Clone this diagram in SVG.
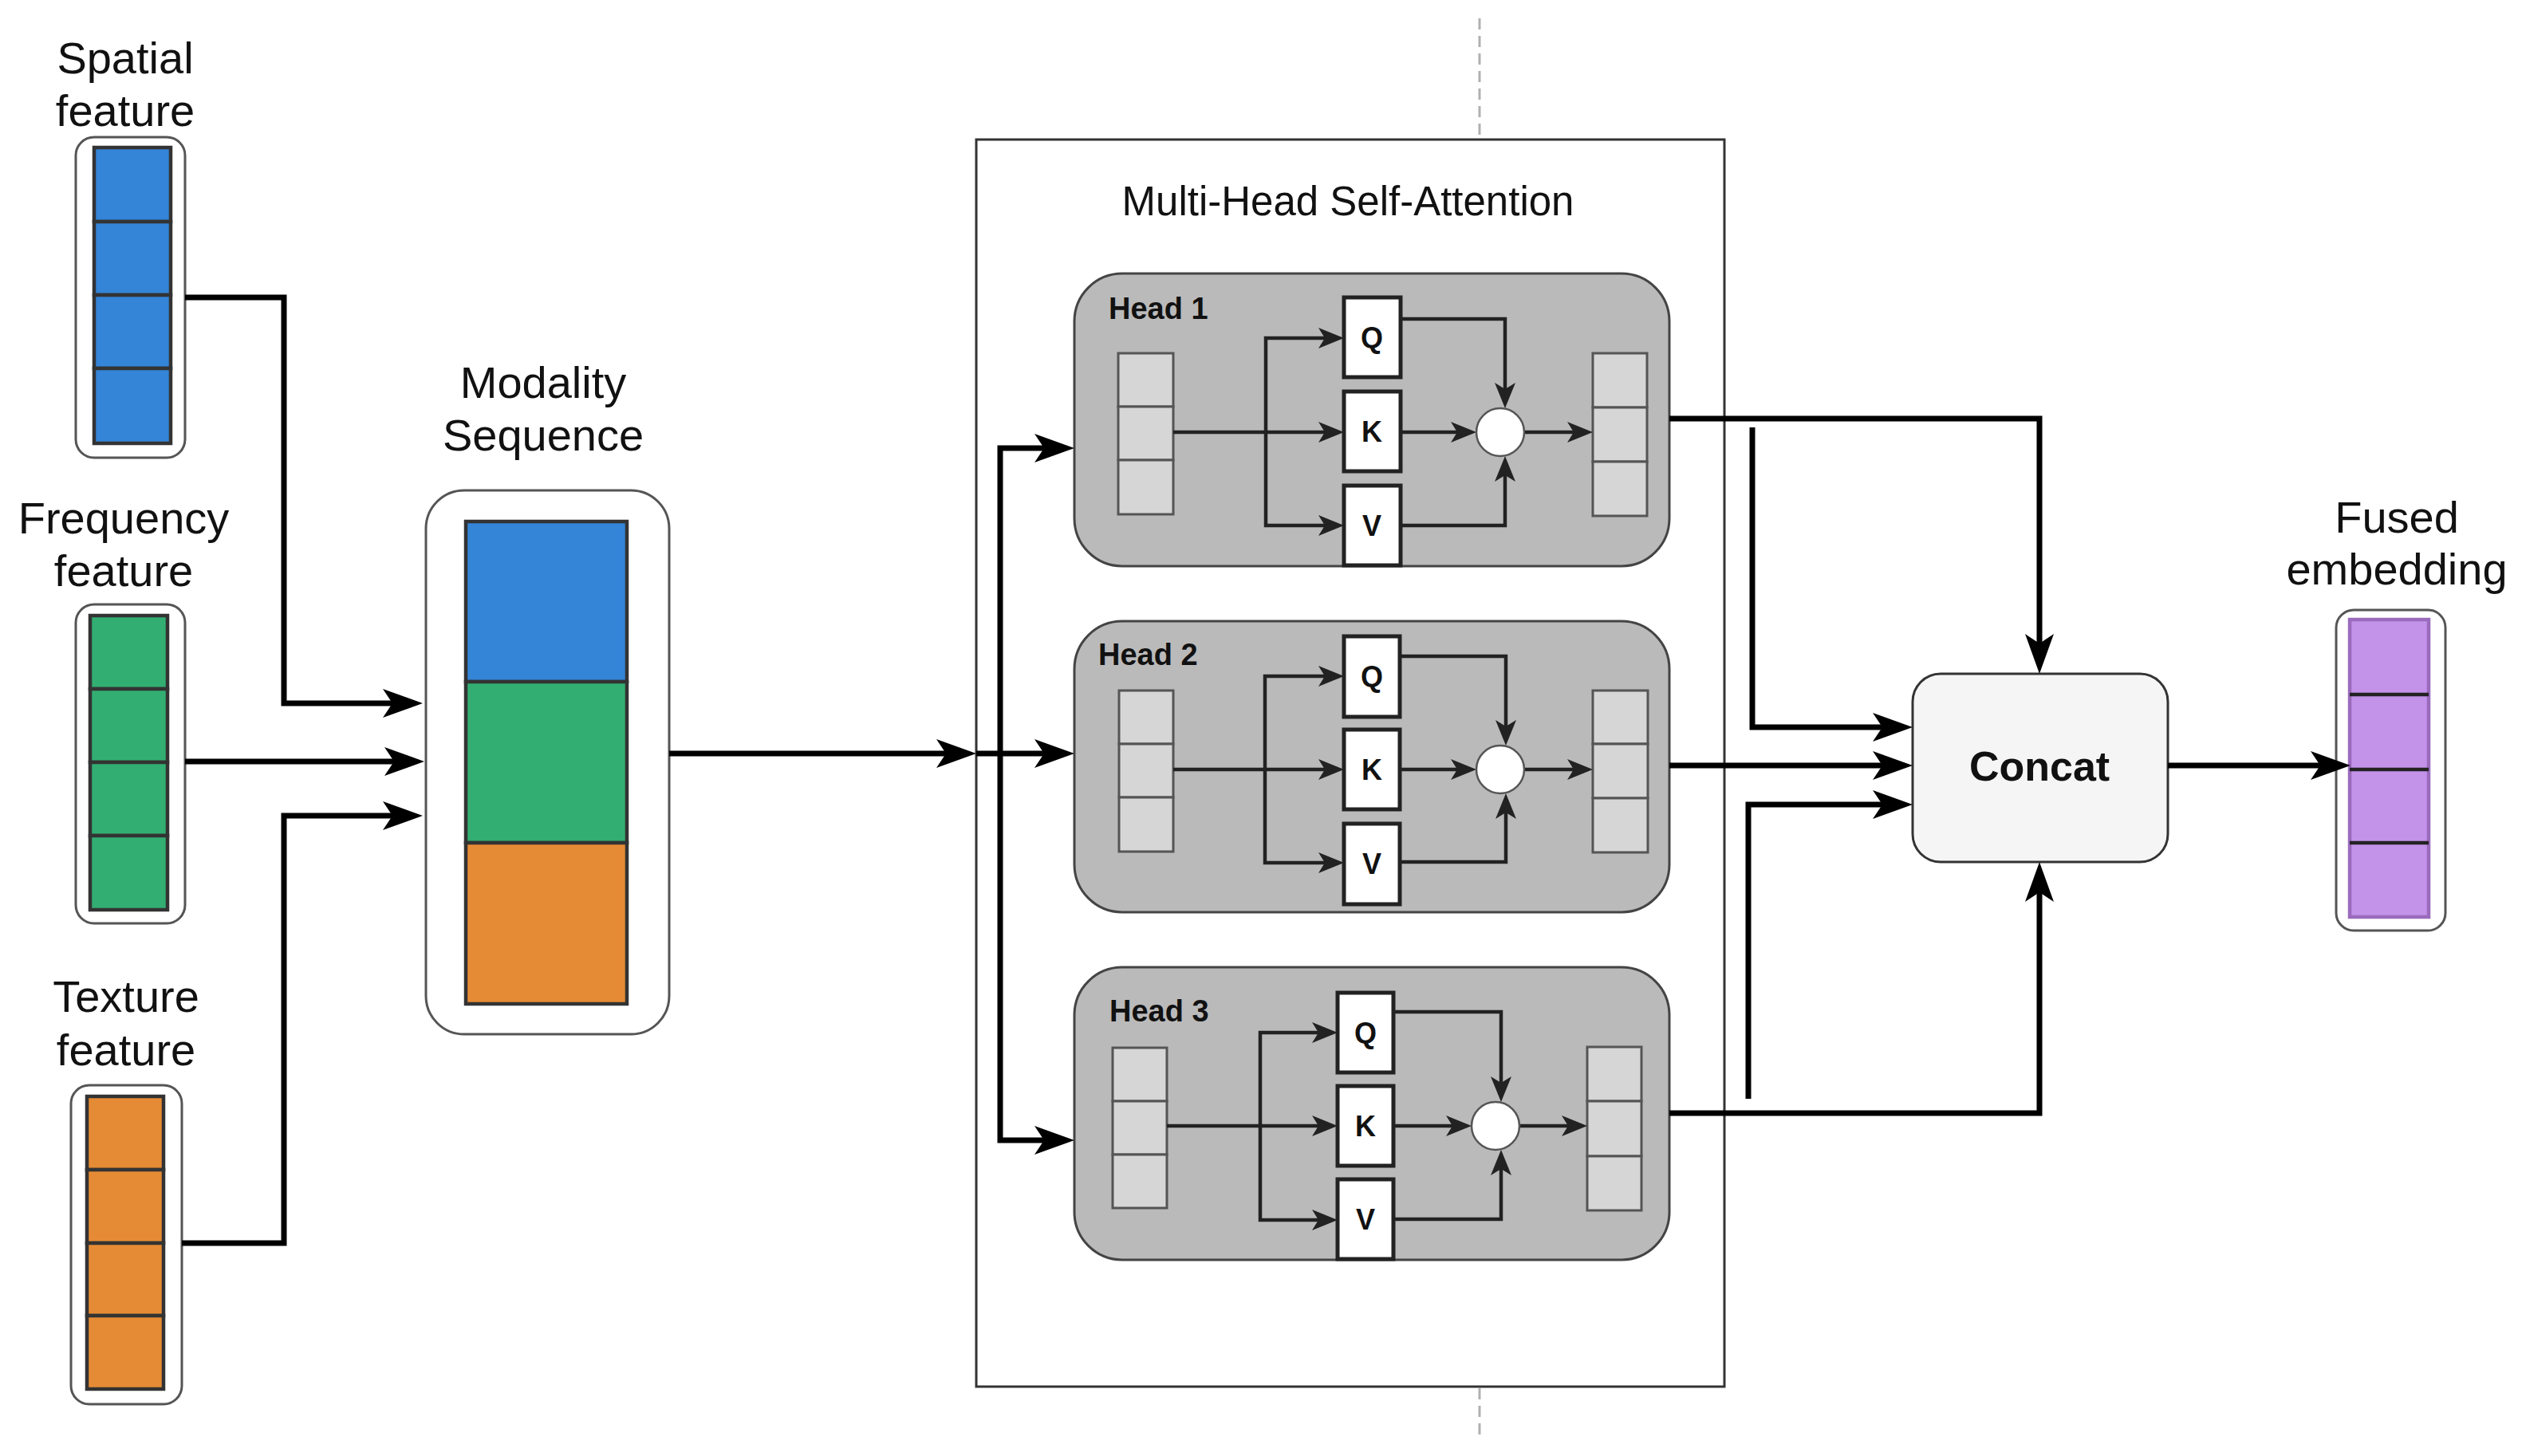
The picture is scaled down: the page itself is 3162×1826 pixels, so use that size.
<svg xmlns="http://www.w3.org/2000/svg" width="3162" height="1826" viewBox="0 0 3162 1826">
<defs>
<style>
.lbl{font-family:"Liberation Sans",Arial,sans-serif;font-size:56px;fill:#111;text-anchor:middle}
.title{font-family:"Liberation Sans",Arial,sans-serif;font-size:51px;fill:#111;text-anchor:middle}
.hl{font-family:"Liberation Sans",Arial,sans-serif;font-size:38px;font-weight:bold;fill:#111}
.qkv{font-family:"Liberation Sans",Arial,sans-serif;font-size:36px;font-weight:bold;fill:#111;text-anchor:middle}
.cc{font-family:"Liberation Sans",Arial,sans-serif;font-size:52px;font-weight:bold;fill:#111;text-anchor:middle}
.outer{fill:#fff;stroke:#555;stroke-width:3}
.cell{stroke:#333;stroke-width:4.5}
.blue{fill:#3484d7}.green{fill:#33ae72}.orange{fill:#e68b35}
.head{fill:#bababa;stroke:#444;stroke-width:3}
.st{fill:#d6d6d6;stroke:#555;stroke-width:3}
.box{fill:#fff;stroke:#222;stroke-width:5}
.circ{fill:#fff;stroke:#555;stroke-width:2.5}
.big{fill:none;stroke:#000;stroke-width:7;stroke-linejoin:miter;marker-end:url(#ab)}
.sm{fill:none;stroke:#222;stroke-width:4.5;marker-end:url(#as)}
.dash{stroke:#b0b0b0;stroke-width:3;stroke-dasharray:14 8}
</style>
<marker id="ab" viewBox="0 0 50 36" markerWidth="50" markerHeight="36" markerUnits="userSpaceOnUse" refX="30" refY="18" orient="auto">
<path d="M0,0 L50,18 L0,36 L12,18 Z" fill="#000"/>
</marker>
<marker id="as" viewBox="0 0 32 26" markerWidth="32" markerHeight="26" markerUnits="userSpaceOnUse" refX="20" refY="13" orient="auto">
<path d="M0,0 L32,13 L0,26 L8,13 Z" fill="#222"/>
</marker>
</defs>
<rect width="3162" height="1826" fill="#fff"/>

<line class="dash" x1="1855" y1="23" x2="1855" y2="175"/>
<line class="dash" x1="1855" y1="1741" x2="1855" y2="1800"/>

<g id="spatial">
<text class="lbl" x="157" y="92">Spatial</text>
<text class="lbl" x="157" y="158">feature</text>
<rect class="outer" x="95" y="172" width="137" height="402" rx="23"/>
<rect class="cell blue" x="118" y="185" width="96" height="93"/>
<rect class="cell blue" x="118" y="278" width="96" height="92"/>
<rect class="cell blue" x="118" y="370" width="96" height="92"/>
<rect class="cell blue" x="118" y="462" width="96" height="94"/>
</g>

<g id="frequency">
<text class="lbl" x="155" y="669">Frequency</text>
<text class="lbl" x="155" y="735">feature</text>
<rect class="outer" x="95" y="758" width="137" height="400" rx="23"/>
<rect class="cell green" x="113" y="772" width="97" height="92"/>
<rect class="cell green" x="113" y="864" width="97" height="92"/>
<rect class="cell green" x="113" y="956" width="97" height="92"/>
<rect class="cell green" x="113" y="1048" width="97" height="93"/>
</g>

<g id="texture">
<text class="lbl" x="158" y="1269">Texture</text>
<text class="lbl" x="158" y="1336">feature</text>
<rect class="outer" x="89" y="1361" width="139" height="400" rx="23"/>
<rect class="cell orange" x="109" y="1375" width="96" height="92"/>
<rect class="cell orange" x="109" y="1467" width="96" height="92"/>
<rect class="cell orange" x="109" y="1559" width="96" height="91"/>
<rect class="cell orange" x="109" y="1650" width="96" height="92"/>
</g>

<g id="modality">
<text class="lbl" x="681" y="499">Modality</text>
<text class="lbl" x="681" y="565">Sequence</text>
<rect class="outer" x="534" y="615" width="305" height="682" rx="48"/>
<rect class="cell blue" x="584" y="654" width="202" height="201"/>
<rect class="cell green" x="584" y="855" width="202" height="202"/>
<rect class="cell orange" x="584" y="1057" width="202" height="202"/>
</g>

<g id="mhsa">
<rect x="1224" y="175" width="938" height="1564" fill="none" stroke="#333" stroke-width="3"/>
<text class="title" x="1690" y="270">Multi-Head Self-Attention</text>
</g>

<g id="head1">
<rect class="head" x="1347" y="343" width="746" height="367" rx="60"/>
<text class="hl" x="1390" y="400">Head 1</text>
<rect class="st" x="1402" y="443" width="69" height="67"/>
<rect class="st" x="1402" y="510" width="69" height="67"/>
<rect class="st" x="1402" y="577" width="69" height="68"/>
<rect class="st" x="1997" y="443" width="68" height="68"/>
<rect class="st" x="1997" y="511" width="68" height="68"/>
<rect class="st" x="1997" y="579" width="68" height="68"/>
<path class="sm" d="M1471,542 H1673"/>
<path class="sm" d="M1587,542 V424 H1673"/>
<path class="sm" d="M1587,542 V659 H1673"/>
<path class="sm" d="M1756,542 H1839"/>
<path class="sm" d="M1756,400 H1887 V500"/>
<path class="sm" d="M1756,659 H1887 V584"/>
<path class="sm" d="M1911,542 H1985"/>
<rect class="box" x="1685" y="373" width="71" height="100"/>
<rect class="box" x="1685" y="491" width="71" height="100"/>
<rect class="box" x="1685" y="609" width="71" height="100"/>
<text class="qkv" x="1720" y="436">Q</text>
<text class="qkv" x="1720" y="554">K</text>
<text class="qkv" x="1720" y="672">V</text>
<circle class="circ" cx="1881" cy="542" r="30"/>
</g>

<g id="head2">
<rect class="head" x="1347" y="779" width="746" height="365" rx="60"/>
<text class="hl" x="1377" y="834">Head 2</text>
<rect class="st" x="1403" y="866" width="68" height="67"/>
<rect class="st" x="1403" y="933" width="68" height="67"/>
<rect class="st" x="1403" y="1000" width="68" height="68"/>
<rect class="st" x="1997" y="866" width="69" height="67"/>
<rect class="st" x="1997" y="933" width="69" height="68"/>
<rect class="st" x="1997" y="1001" width="69" height="68"/>
<path class="sm" d="M1471,965 H1673"/>
<path class="sm" d="M1586,965 V848 H1673"/>
<path class="sm" d="M1586,965 V1082 H1673"/>
<path class="sm" d="M1755,965 H1839"/>
<path class="sm" d="M1755,823 H1888 V923"/>
<path class="sm" d="M1755,1081 H1888 V1007"/>
<path class="sm" d="M1911,965 H1985"/>
<rect class="box" x="1685" y="798" width="70" height="101"/>
<rect class="box" x="1685" y="915" width="70" height="100"/>
<rect class="box" x="1685" y="1033" width="70" height="101"/>
<text class="qkv" x="1720" y="861">Q</text>
<text class="qkv" x="1720" y="978">K</text>
<text class="qkv" x="1720" y="1096">V</text>
<circle class="circ" cx="1881" cy="965" r="30"/>
</g>

<g id="head3">
<rect class="head" x="1347" y="1213" width="746" height="367" rx="60"/>
<text class="hl" x="1391" y="1281">Head 3</text>
<rect class="st" x="1395" y="1314" width="68" height="67"/>
<rect class="st" x="1395" y="1381" width="68" height="67"/>
<rect class="st" x="1395" y="1448" width="68" height="67"/>
<rect class="st" x="1990" y="1313" width="68" height="68"/>
<rect class="st" x="1990" y="1381" width="68" height="69"/>
<rect class="st" x="1990" y="1450" width="68" height="68"/>
<path class="sm" d="M1463,1412 H1665"/>
<path class="sm" d="M1580,1412 V1295 H1665"/>
<path class="sm" d="M1580,1412 V1530 H1665"/>
<path class="sm" d="M1747,1412 H1833"/>
<path class="sm" d="M1747,1269 H1882 V1370"/>
<path class="sm" d="M1747,1529 H1882 V1454"/>
<path class="sm" d="M1905,1412 H1978"/>
<rect class="box" x="1677" y="1245" width="70" height="100"/>
<rect class="box" x="1677" y="1362" width="70" height="100"/>
<rect class="box" x="1677" y="1479" width="70" height="100"/>
<text class="qkv" x="1712" y="1308">Q</text>
<text class="qkv" x="1712" y="1425">K</text>
<text class="qkv" x="1712" y="1542">V</text>
<circle class="circ" cx="1875" cy="1412" r="30"/>
</g>

<g id="concat">
<rect x="2398" y="845" width="320" height="236" rx="35" fill="#f5f5f5" stroke="#333" stroke-width="3"/>
<text class="cc" x="2557" y="979">Concat</text>
</g>

<g id="fused">
<text class="lbl" x="3005" y="668">Fused</text>
<text class="lbl" x="3005" y="733">embedding</text>
<rect class="outer" x="2929" y="765" width="137" height="402" rx="22"/>
<rect x="2946" y="777" width="99" height="373" fill="#c392e9" stroke="#9a6bbd" stroke-width="4.5"/>
<line x1="2946" y1="871" x2="3045" y2="871" stroke="#222" stroke-width="4.5"/>
<line x1="2946" y1="965" x2="3045" y2="965" stroke="#222" stroke-width="4.5"/>
<line x1="2946" y1="1057" x2="3045" y2="1057" stroke="#222" stroke-width="4.5"/>
</g>

<g id="connectors">
<path class="big" d="M232,373 H356 V882 H510"/>
<path class="big" d="M232,955 H512"/>
<path class="big" d="M228,1559 H356 V1023 H510"/>
<path class="big" d="M839,945 H1204"/>
<path class="big" d="M1224,945 H1327"/>
<path class="big" d="M1254,945 V562 H1327"/>
<path class="big" d="M1254,945 V1430 H1327"/>
<path class="big" d="M2093,525 H2557 V825"/>
<path class="big" d="M2093,960 H2378"/>
<path class="big" d="M2093,1396 H2557 V1101"/>
<path class="big" d="M2197,536 V912 H2378"/>
<path class="big" d="M2192,1378 V1009 H2378"/>
<path class="big" d="M2718,960 H2927"/>
</g>
</svg>
